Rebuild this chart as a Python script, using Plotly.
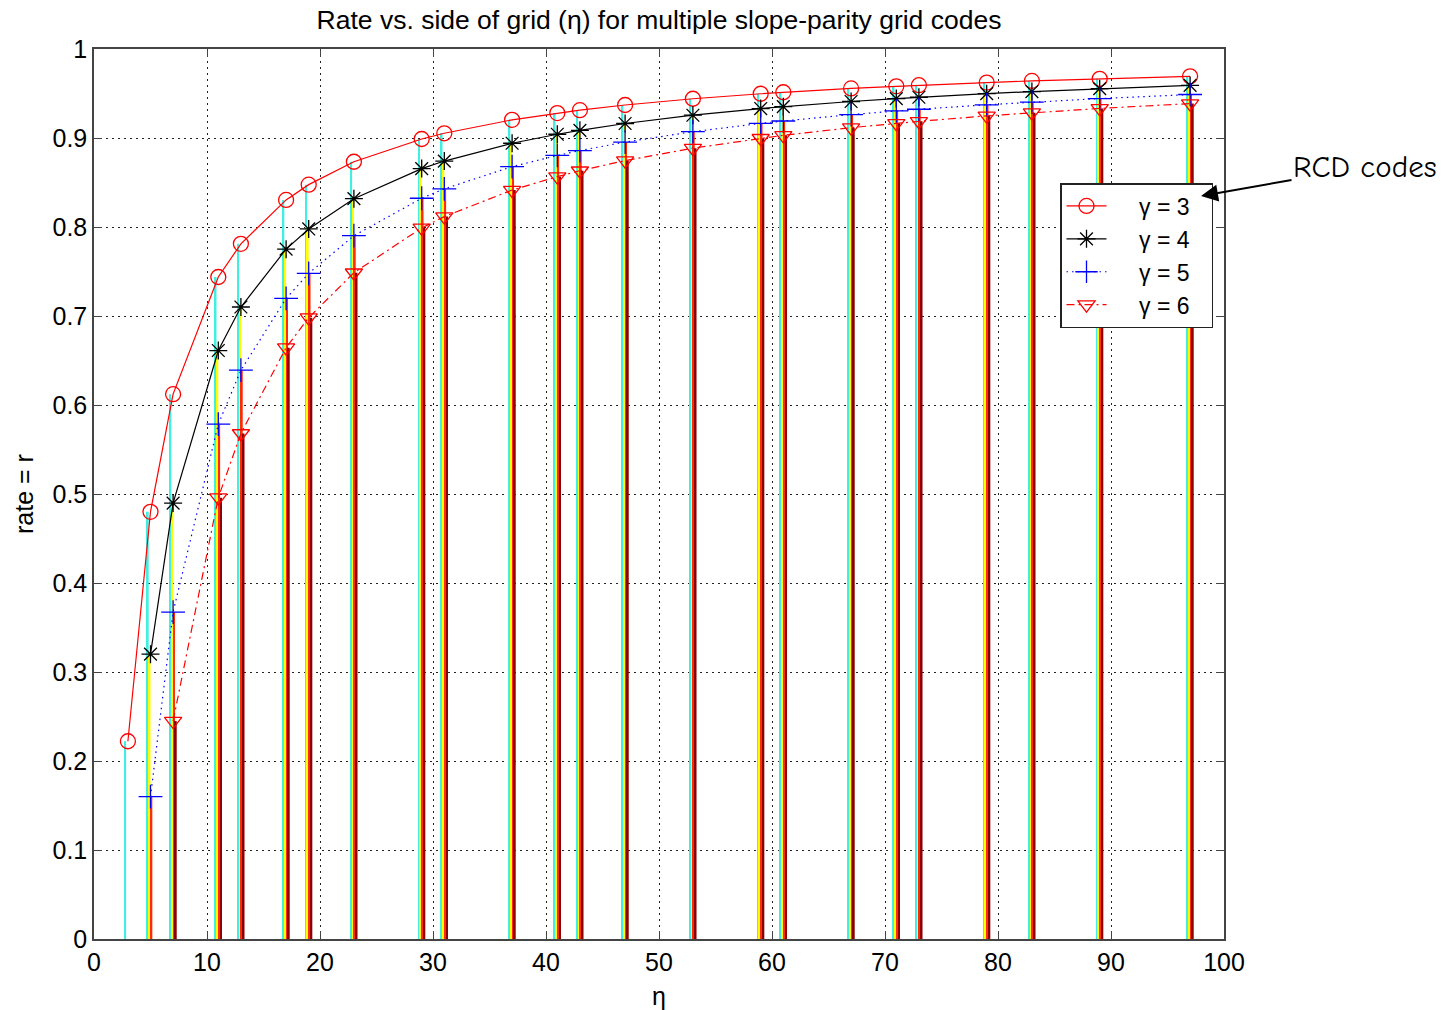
import plotly.graph_objects as go

eta = [3, 5, 7, 11, 13, 17, 19, 23, 29, 31, 37, 41, 43, 47, 53, 59, 61, 67, 71, 73, 79, 83, 89, 97]

r_g3 = [0.2222, 0.4800, 0.6122, 0.7438, 0.7811, 0.8304, 0.8476, 0.8733, 0.8989, 0.9053,
        0.9204, 0.9280, 0.9313, 0.9371, 0.9441, 0.9497, 0.9514, 0.9557, 0.9581, 0.9593,
        0.9623, 0.9641, 0.9665, 0.9693]
eta_g4 = eta[1:]
r_g4 = [0.3200, 0.4898, 0.6612, 0.7101, 0.7751, 0.7978, 0.8318, 0.8656, 0.8741, 0.8941,
        0.9042, 0.9086, 0.9163, 0.9256, 0.9331, 0.9352, 0.9410, 0.9443, 0.9458, 0.9498,
        0.9522, 0.9554, 0.9591]
eta_g5 = eta[1:]
r_g5 = [0.1600, 0.3673, 0.5785, 0.6391, 0.7197, 0.7479, 0.7902, 0.8323, 0.8429, 0.8678,
        0.8804, 0.8859, 0.8954, 0.9071, 0.9164, 0.9191, 0.9263, 0.9304, 0.9323, 0.9373,
        0.9403, 0.9443, 0.9489]
eta_g6 = eta[2:]
r_g6 = [0.2449, 0.4959, 0.5680, 0.6644, 0.6981, 0.7486, 0.7990, 0.8117, 0.8415, 0.8566,
        0.8632, 0.8746, 0.8886, 0.8997, 0.9030, 0.9116, 0.9165, 0.9187, 0.9249, 0.9284,
        0.9332, 0.9387]

pad = "\u2002\u2002\u2009"
labels = [pad + "\u03b3 = 3\u2002\u2009", pad + "\u03b3 = 4\u2002\u2009",
          pad + "\u03b3 = 5\u2002\u2009", pad + "\u03b3 = 6\u2002\u2009"]
xs = [eta, eta_g4, eta_g5, eta_g6]
ys = [r_g3, r_g4, r_g5, r_g6]

bar_colors = ["#40efe0", "#ffff00", "#ff2a00", "#8b0000"]
line_colors = ["#ff0000", "#000000", "#0000ff", "#ff0000"]
dashes = ["solid", "solid", "1.5px,4px", "8px,4px,2px,4px"]
symbols = ["circle-open", "asterisk-open", "cross-thin-open", "triangle-down-open"]
msizes = [15, 15, 17, 15]

FONT = "Liberation Sans, Arial, sans-serif"

fig = go.Figure()

bw = 0.16
for i in range(4):
    fig.add_trace(go.Bar(
        x=xs[i], y=ys[i], width=bw, offset=-2 * bw + i * bw,
        marker=dict(color=bar_colors[i], line=dict(width=0)),
        showlegend=False, hoverinfo="skip"))

for i in range(4):
    fig.add_trace(go.Scatter(
        x=xs[i], y=ys[i], mode="lines+markers", name=labels[i],
        line=dict(color=line_colors[i], width=1.2, dash=dashes[i]),
        marker=dict(symbol=symbols[i], size=msizes[i], color=line_colors[i],
                    line=dict(width=1.3, color=line_colors[i]))))

axis_common = dict(
    showline=True, linecolor="#444", linewidth=1.5, mirror="allticks",
    ticks="inside", ticklen=8, tickcolor="#444",
    showgrid=True, gridcolor="#222", griddash="1.5px,4.5px", gridwidth=1,
    zeroline=False, tickfont=dict(family=FONT, size=25, color="#000"),
    automargin=False,
)

fig.update_layout(
    width=1456, height=1010,
    paper_bgcolor="white", plot_bgcolor="white",
    margin=dict(l=94, r=232, t=49, b=71, autoexpand=False),
    barmode="overlay",
    title=dict(text="Rate vs. side of grid (\u03b7) for multiple slope-parity grid codes",
               x=(94 + 1224) / 2 / 1456, xanchor="center", y=1 - 20 / 1010, yanchor="middle",
               font=dict(family=FONT, size=26.5, color="#000")),
    xaxis=dict(range=[0, 100], tickmode="linear", tick0=0, dtick=10,
               title=dict(text="\u03b7", font=dict(family=FONT, size=25, color="#000"), standoff=14),
               **axis_common),
    yaxis=dict(range=[0, 1], tickmode="array",
               tickvals=[0, 0.1, 0.2, 0.3, 0.4, 0.5, 0.6, 0.7, 0.8, 0.9, 1.0],
               ticktext=["0", "0.1", "0.2", "0.3", "0.4", "0.5", "0.6", "0.7", "0.8", "0.9", "1"],
               title=dict(text="rate = r", font=dict(family=FONT, size=25, color="#000"), standoff=12),
               **axis_common),
    legend=dict(x=(1060 - 94) / 1130, y=(939 - 183) / 890, xanchor="left", yanchor="top",
                bgcolor="white", bordercolor="#222", borderwidth=1.5,
                font=dict(family=FONT, size=23, color="#000"),
                itemwidth=40, tracegroupgap=0),
    annotations=[dict(
        x=(1201 - 94) / 1130, y=(939 - 196) / 890, xref="paper", yref="paper",
        text="RCD codes", showarrow=True, arrowhead=2, arrowsize=1.7, arrowwidth=2,
        arrowcolor="#000", ax=164, ay=-29,
        font=dict(family="Comic Sans MS, Comic Neue, DejaVu Sans, sans-serif", size=31, color="#000"),
    )],
)

fig.write_html("out.html")
